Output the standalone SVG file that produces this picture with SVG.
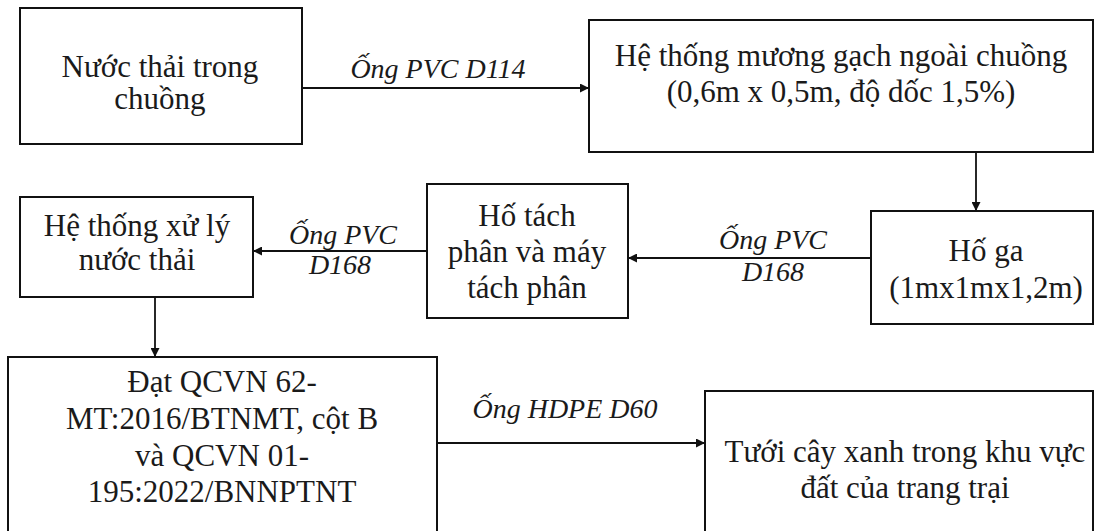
<svg xmlns="http://www.w3.org/2000/svg" width="1103" height="531" viewBox="0 0 1103 531">
<style>
.box{fill:#fff;stroke:#111;stroke-width:2}
.t{font-family:"Liberation Serif","Times New Roman",serif;font-size:31px;fill:#1a1a1a;text-anchor:middle}
.l{font-family:"Liberation Serif","Times New Roman",serif;font-size:28px;font-style:italic;fill:#1a1a1a;text-anchor:middle}
.c{stroke:#111;stroke-width:1.8;fill:none}
</style>
<defs>
<marker id="ah" viewBox="0 0 10 10" refX="10" refY="5" markerWidth="10" markerHeight="9" markerUnits="userSpaceOnUse" orient="auto">
<path d="M0,0 L10,5 L0,10 z" fill="#111"/>
</marker>
</defs>
<rect width="1103" height="531" fill="#fff"/>
<g id="n1"><rect class="box" x="20" y="8" width="282" height="136"/>
<text class="t" x="160" y="77">Nước thải trong</text><text class="t" x="160" y="109">chuồng</text></g>
<g id="n2"><rect class="box" x="589" y="20" width="504" height="132"/>
<text class="t" x="841" y="66">Hệ thống mương gạch ngoài chuồng</text><text class="t" x="841" y="102">(0,6m x 0,5m, độ dốc 1,5%)</text></g>
<g id="n3"><rect class="box" x="871" y="211" width="222" height="113"/>
<text class="t" x="986" y="261">Hố ga</text><text class="t" x="986" y="298">(1mx1mx1,2m)</text></g>
<g id="n4"><rect class="box" x="427" y="184" width="201" height="134"/>
<text class="t" x="527" y="226">Hố tách</text><text class="t" x="527" y="262">phân và máy</text><text class="t" x="527" y="298">tách phân</text></g>
<g id="n5"><rect class="box" x="20" y="197" width="233" height="100"/>
<text class="t" x="137" y="236">Hệ thống xử lý</text><text class="t" x="137" y="270">nước thải</text></g>
<g id="n6"><rect class="box" x="8" y="357" width="429" height="190"/>
<text class="t" x="222" y="392">Đạt QCVN 62-</text><text class="t" x="222" y="429">MT:2016/BTNMT, cột B</text><text class="t" x="222" y="466">và QCVN 01-</text><text class="t" x="222" y="502">195:2022/BNNPTNT</text></g>
<g id="n7"><rect class="box" x="705" y="391" width="388" height="160"/>
<text class="t" x="905" y="462">Tưới cây xanh trong khu vực</text><text class="t" x="905" y="498">đất của trang trại</text></g>
<g id="connectors">
<line class="c" x1="302" y1="88" x2="589" y2="88" marker-end="url(#ah)"/>
<text class="l" x="438" y="78">Ống PVC D114</text>
<line class="c" x1="976" y1="152" x2="976" y2="211" marker-end="url(#ah)"/>
<line class="c" x1="871" y1="258" x2="628" y2="258" marker-end="url(#ah)"/>
<text class="l" x="773" y="249">Ống PVC</text><text class="l" x="773" y="281">D168</text>
<line class="c" x1="427" y1="251" x2="253" y2="251" marker-end="url(#ah)"/>
<text class="l" x="343" y="244">Ống PVC</text><text class="l" x="340" y="274">D168</text>
<line class="c" x1="155" y1="297" x2="155" y2="357" marker-end="url(#ah)"/>
<line class="c" x1="437" y1="443" x2="705" y2="443" marker-end="url(#ah)"/>
<text class="l" x="565" y="418">Ống HDPE D60</text>
</g>
</svg>
